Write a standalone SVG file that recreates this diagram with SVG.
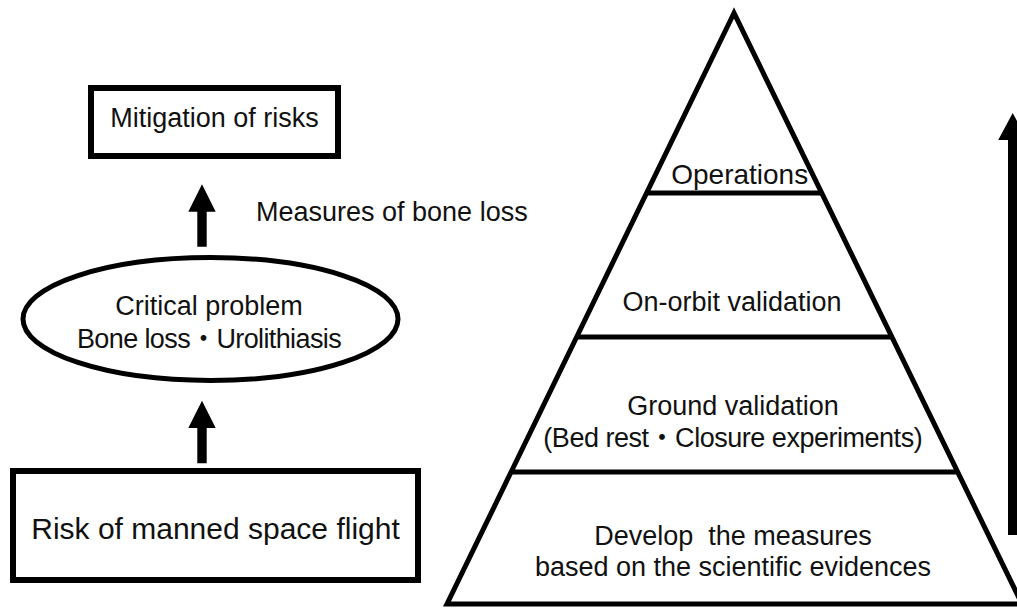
<svg xmlns="http://www.w3.org/2000/svg" width="1017" height="609" viewBox="0 0 1017 609">
  <style>
    text { font-family: "Liberation Sans", Arial, "Noto Sans CJK JP", sans-serif; fill: #111; font-size: 27px; white-space: pre; }
    .c { text-anchor: middle; }
    .box { fill: #fff; stroke: #000; stroke-width: 6; }
    .ell { fill: #fff; stroke: #000; stroke-width: 5; }
    .pyr { fill: #fff; stroke: #000; stroke-width: 5; stroke-linejoin: miter; stroke-miterlimit: 10; }
    .tier { stroke: #000; stroke-width: 5; }
    .arrow { fill: #000; stroke: none; }
  </style>
  <rect width="1017" height="609" fill="#fff"/>

  <g id="connectors">
    <polygon class="arrow" points="202,184.3 215.7,211.7 206.7,211.7 206.7,246.7 197.3,246.7 197.3,211.7 188.3,211.7"/>
    <polygon class="arrow" points="202,400.7 215.7,428 206.7,428 206.7,463.3 197.3,463.3 197.3,428 188.3,428"/>
    <polygon class="arrow" points="1012.7,113 1027.2,140 1017.4,140 1017.4,535 1008,535 1008,140 998.2,140"/>
  </g>

  <g id="mitigation">
    <rect class="box" x="91" y="88" width="247" height="68"/>
    <text class="c" x="214.5" y="127">Mitigation of risks</text>
  </g>

  <g id="measures-label">
    <text x="256" y="220.7">Measures of bone loss</text>
  </g>

  <g id="critical-problem">
    <ellipse class="ell" cx="210.5" cy="319" rx="187.5" ry="61.5"/>
    <text class="c" x="209" y="315">Critical problem</text>
    <text class="c" x="209.3" y="348.3" textLength="264.7" lengthAdjust="spacing">Bone loss・Urolithiasis</text>
  </g>

  <g id="risk">
    <rect class="box" x="13" y="471" width="405" height="109"/>
    <text class="c" x="215.5" y="539" style="font-size:30px">Risk of manned space flight</text>
  </g>

  <g id="pyramid">
    <polygon class="pyr" points="734,13 447,604 1022,604"/>
    <line class="tier" x1="646.6" y1="193" x2="821.7" y2="193"/>
    <line class="tier" x1="576.7" y1="337" x2="891.9" y2="337"/>
    <line class="tier" x1="511.1" y1="472" x2="957.7" y2="472"/>
  </g>

  <g id="operations">
    <text class="c" x="739.7" y="184" style="font-size:28px">Operations</text>
  </g>
  <g id="on-orbit-validation">
    <text class="c" x="732" y="310.7">On-orbit validation</text>
  </g>
  <g id="ground-validation">
    <text class="c" x="733" y="415">Ground validation</text>
    <text class="c" x="733" y="446.7" textLength="379.3" lengthAdjust="spacing">(Bed rest・Closure experiments)</text>
  </g>
  <g id="develop-measures">
    <text class="c" x="733" y="545">Develop  the measures</text>
    <text class="c" x="733" y="576">based on the scientific evidences</text>
  </g>
</svg>
